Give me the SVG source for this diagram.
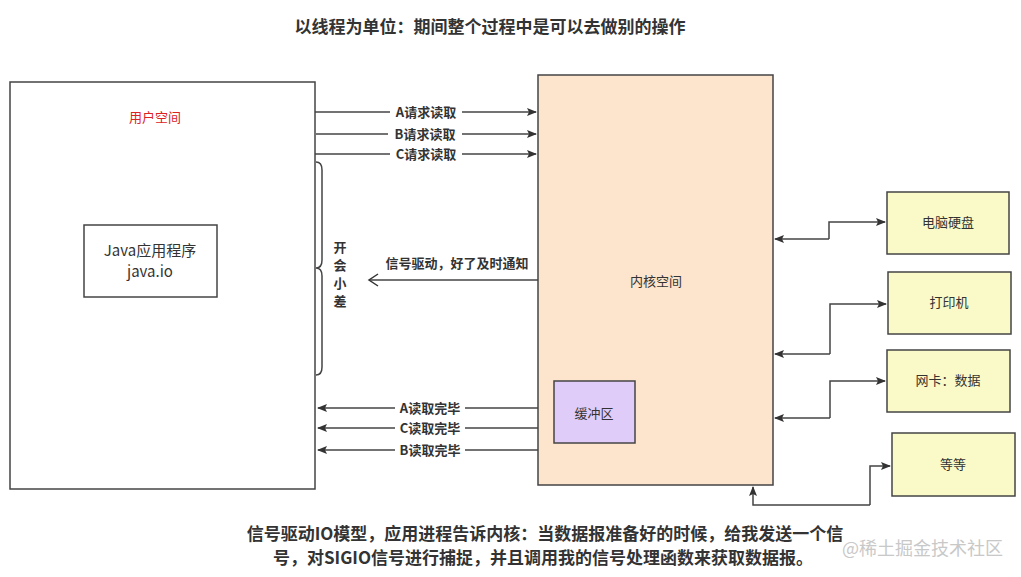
<svg xmlns="http://www.w3.org/2000/svg" width="1021" height="577" viewBox="0 0 1021 577">
<style>
text{font-family:"Noto Sans CJK SC","Liberation Sans",sans-serif;}
.b{font-weight:bold;fill:#333;}
.box{stroke:#444;stroke-width:1.5;}
.ln{stroke:#444;stroke-width:1.5;fill:none;}
.lbl{font-size:13px;font-weight:bold;fill:#333;text-anchor:middle;}
.t{font-size:13px;fill:#333;text-anchor:middle;}
</style>
<defs>
<marker id="ar" markerWidth="10" markerHeight="8" refX="9" refY="4" orient="auto" markerUnits="userSpaceOnUse"><path d="M0,0 L10,4 L0,8 L2,4 z" fill="#333"/></marker>
<marker id="op" markerWidth="12" markerHeight="14" refX="10" refY="7" orient="auto" markerUnits="userSpaceOnUse"><path d="M1,1 L10,7 L1,13" fill="none" stroke="#333" stroke-width="1.5"/></marker>
</defs>
<rect width="1021" height="577" fill="#fff"/>
<text x="490" y="33" font-size="17" class="b" text-anchor="middle">以线程为单位：期间整个过程中是可以去做别的操作</text>
<g id="user"><rect x="10" y="82" width="305" height="407" fill="#fff" class="box"/>
<text x="155" y="122" font-size="13" fill="#d22" text-anchor="middle">用户空间</text></g>
<g id="java"><rect x="84" y="225" width="133" height="72" fill="#fff" class="box"/>
<text x="150" y="256" font-size="15" fill="#333" text-anchor="middle">Java应用程序</text>
<text x="150" y="277" font-size="15" fill="#333" text-anchor="middle">java.io</text></g>
<g id="kernel"><rect x="538" y="75" width="235" height="410" fill="#fde4cc" class="box"/>
<text x="656" y="286" class="t" font-size="15">内核空间</text></g>
<g id="buffer"><rect x="554" y="381" width="81" height="62" fill="#e0ccf8" class="box"/>
<text x="594" y="418" class="t" font-size="15">缓冲区</text></g>
<g id="disk"><rect x="887" y="192" width="122" height="62" fill="#fafac8" class="box"/><text x="948" y="227" class="t">电脑硬盘</text></g>
<g id="printer"><rect x="888" y="272" width="123" height="62" fill="#fafac8" class="box"/><text x="949" y="307" class="t">打印机</text></g>
<g id="nic"><rect x="887" y="350" width="123" height="62" fill="#fafac8" class="box"/><text x="948" y="385" class="t">网卡：数据</text></g>
<g id="etc"><rect x="892" y="433" width="123" height="63" fill="#fafac8" class="box"/><text x="953" y="469" class="t">等等</text></g>
<g id="brace"><path class="ln" d="M316,162 Q322,162 322,170 L322,260 Q322,268 316,268 Q322,268 322,276 L322,367 Q322,375 316,375"/>
<text x="340" y="252" class="lbl">开</text><text x="340" y="270" class="lbl">会</text><text x="340" y="288" class="lbl">小</text><text x="340" y="306" class="lbl">差</text></g>
<g id="connectors">
<path class="ln" d="M315,112 H536" marker-end="url(#ar)"/>
<path class="ln" d="M316,134 H536" marker-end="url(#ar)"/>
<path class="ln" d="M315,154 H536" marker-end="url(#ar)"/>
<path class="ln" d="M538,280 H369" marker-end="url(#op)"/>
<path class="ln" d="M538,408 H318" marker-end="url(#ar)"/>
<path class="ln" d="M538,428 H318" marker-end="url(#ar)"/>
<path class="ln" d="M538,450 H318" marker-end="url(#ar)"/>
<path class="ln" d="M829,239 V222 H885" marker-end="url(#ar)"/><path class="ln" d="M829,239 H775" marker-end="url(#ar)"/>
<path class="ln" d="M830,354 V304 H886" marker-end="url(#ar)"/><path class="ln" d="M830,354 H775" marker-end="url(#ar)"/>
<path class="ln" d="M830,418 V381 H885" marker-end="url(#ar)"/><path class="ln" d="M830,418 H775" marker-end="url(#ar)"/>
<path class="ln" d="M870,505 V466 H890" marker-end="url(#ar)"/><path class="ln" d="M870,505 H753 V487" marker-end="url(#ar)"/>
<g>
<rect x="390" y="104" width="72" height="16" fill="#fff"/><text x="426" y="117" class="lbl">A请求读取</text>
<rect x="388" y="126" width="74" height="16" fill="#fff"/><text x="425" y="139" class="lbl">B请求读取</text>
<rect x="390" y="146" width="72" height="16" fill="#fff"/><text x="426" y="159" class="lbl">C请求读取</text>
<text x="457" y="268" class="lbl">信号驱动，好了及时通知</text>
<rect x="395" y="400" width="70" height="16" fill="#fff"/><text x="430" y="413" class="lbl">A读取完毕</text>
<rect x="395" y="420" width="70" height="16" fill="#fff"/><text x="430" y="433" class="lbl">C读取完毕</text>
<rect x="395" y="442" width="70" height="16" fill="#fff"/><text x="430" y="455" class="lbl">B读取完毕</text>
</g></g>
<text x="545" y="540" font-size="17" class="b" text-anchor="middle">信号驱动IO模型，应用进程告诉内核：当数据报准备好的时候，给我发送一个信</text>
<text x="543" y="564" font-size="17" class="b" text-anchor="middle">号，对SIGIO信号进行捕捉，并且调用我的信号处理函数来获取数据报。</text>
<text x="1003" y="555" font-size="18" fill="#bbb" text-anchor="end" opacity="0.8">@稀土掘金技术社区</text>
</svg>
